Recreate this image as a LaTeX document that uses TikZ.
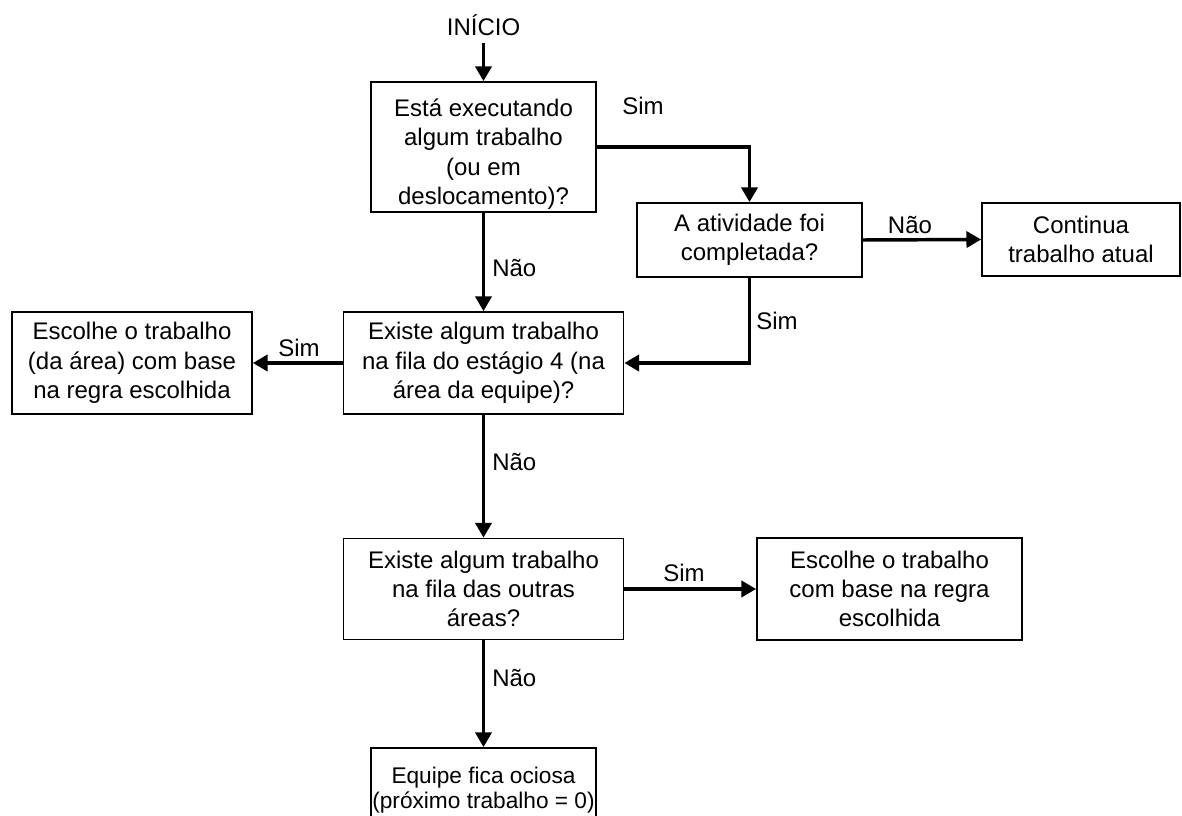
\documentclass[tikz,border=0pt]{standalone}
\usepackage{fontspec}
\setmainfont{Liberation Sans}
\usetikzlibrary{arrows.meta}
\tikzset{
  box/.style={draw, line width=1.3pt, align=center, inner sep=0pt, anchor=center,
    font=\fontsize{18}{22}\selectfont},
  lbl/.style={font=\fontsize{18}{22}\selectfont, inner sep=0pt},
  flow/.style={line width=2.6pt, -{Triangle[length=11pt,width=12pt]}}
}
\begin{document}
\begin{tikzpicture}[x=0.75pt,y=-0.75pt]
\useasboundingbox (0,0) rectangle (1182,816);
\node[lbl] (inicio) at (483.5,25) {INÍCIO};
\coordinate (start) at (483.5,43);
\node[box, minimum width=168.75pt, minimum height=97.5pt] (b1) at (483.5,147)
  {\rule{0pt}{24pt}Está executando\\algum trabalho\\(ou em\\deslocamento)?};
\node[box, minimum width=168.75pt, minimum height=55.5pt] (b2) at (749.5,240)
  {A atividade foi\\completada?};
\node[box, minimum width=148.5pt, minimum height=54.75pt] (b3) at (1081,239.5)
  {Continua\\trabalho atual};
\node[box, minimum width=210pt, minimum height=76.5pt] (b4) at (483.5,363)
  {Existe algum trabalho\\na fila do estágio 4 (na\\área da equipe)?};
\node[box, minimum width=180pt, minimum height=76.5pt] (b5) at (132,363)
  {Escolhe o trabalho\\(da área) com base\\na regra escolhida};
\node[box, minimum width=210pt, minimum height=75.75pt] (b6) at (483.5,589)
  {Existe algum trabalho\\na fila das outras\\áreas?};
\node[box, minimum width=198.75pt, minimum height=76.5pt] (b7) at (889.5,589)
  {Escolhe o trabalho\\com base na regra\\escolhida};
\node[box, minimum width=168.75pt, minimum height=63pt,
      font=\fontsize{17}{19}\selectfont] (b8) at (483.5,790)
  {Equipe fica ociosa\\(próximo trabalho = 0)};

\draw[flow] (start) -- (b1.north);
\draw[flow] (b1.east) -- (b1.east -| b2.north) -- (b2.north);
\draw[flow] (b2.east) -- (b3.west);
\draw[flow] (b1.south) -- (b4.north);
\draw[flow] (b2.south) -- (b2.south |- b4.east) -- (b4.east);
\draw[flow] (b4.west) -- (b5.east);
\draw[flow] (b4.south) -- (b6.north);
\draw[flow] (b6.east) -- (b7.west);
\draw[flow] (b6.south) -- (b8.north);

\node[lbl] (s1) at (643,106) {Sim};
\node[lbl] (n1) at (910,225) {Não};
\node[lbl, anchor=west] (n2) at (492,268) {Não};
\node[lbl] (s2) at (777,321) {Sim};
\node[lbl] (s3) at (299,348) {Sim};
\node[lbl, anchor=west] (n3) at (492,462) {Não};
\node[lbl] (s4) at (684,573) {Sim};
\node[lbl, anchor=west] (n4) at (492,678) {Não};
\end{tikzpicture}
\end{document}
